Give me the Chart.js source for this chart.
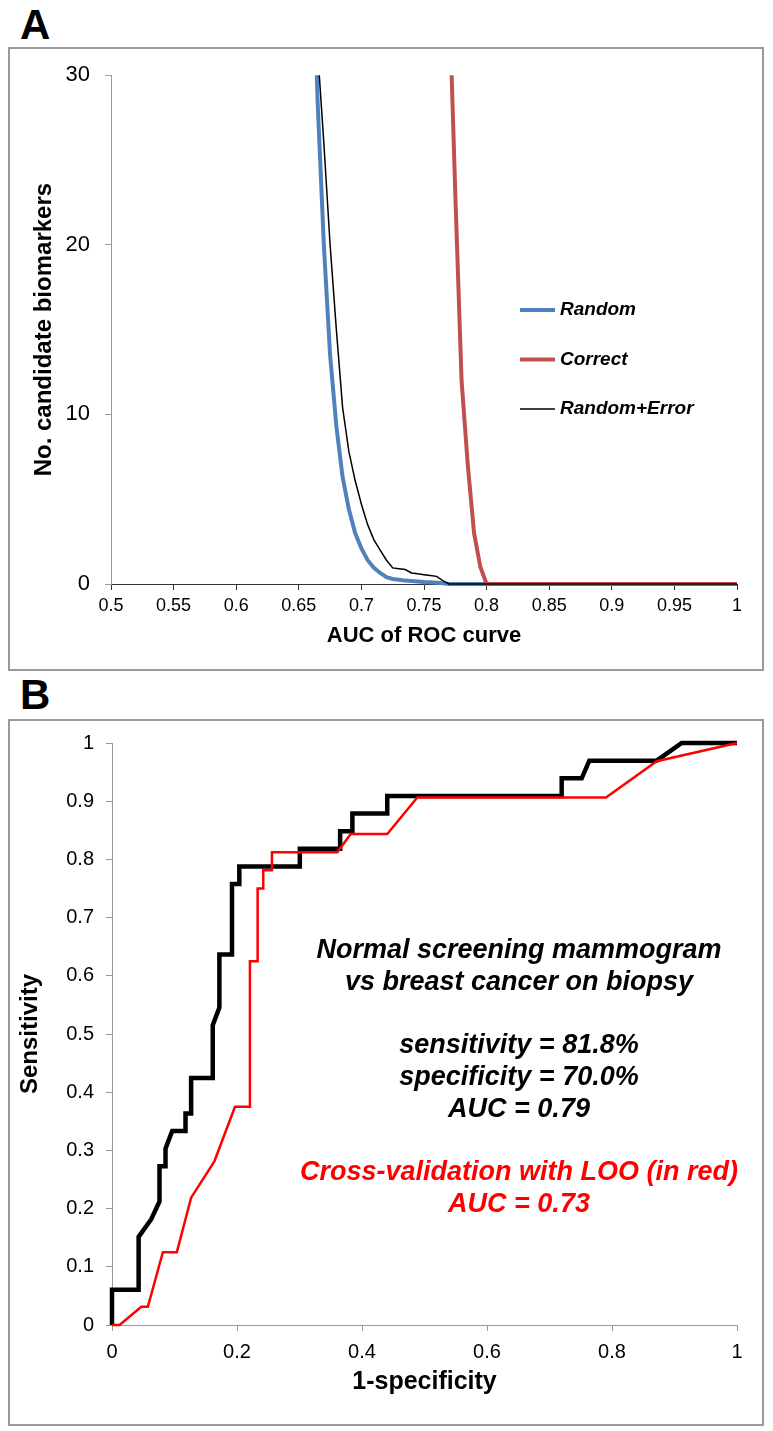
<!DOCTYPE html>
<html>
<head>
<meta charset="utf-8">
<script src="https://cdn.jsdelivr.net/npm/chart.js@4.4.0/dist/chart.umd.min.js"></script>
<style>
  body { margin: 0; background: #fff; width: 773px; height: 1431px; position: relative; overflow: hidden; }
  .tag { position: absolute; left: 20px; font: bold 42px "Liberation Sans Narrow", "Liberation Sans", Arial, sans-serif; line-height: 1; }
  .frame { position: absolute; left: 8px; width: 756px; border: 2px solid #9a9a9a; box-sizing: border-box; pointer-events: none; }
  canvas { position: absolute; left: 8px; }
</style>
</head>
<body>
<div class="tag" style="top:4px">A</div>
<canvas id="chartA" width="756" height="623" style="top:47px"></canvas>
<div class="frame" style="top:47px;height:624px"></div>

<div class="tag" style="top:674px">B</div>
<canvas id="chartB" width="756" height="706" style="top:719px"></canvas>
<div class="frame" style="top:719px;height:707px"></div>

<script>
// ---- panel A: number of candidate biomarkers vs AUC ----
var aucRandom   = [0.66, 0.665, 0.67, 0.675, 0.68, 0.685, 0.69, 0.695, 0.70, 0.705, 0.71, 0.715, 0.72, 0.725, 0.73, 0.735, 0.74, 0.745, 0.75, 0.755, 0.76, 0.765, 0.77, 1.0];
var countRandom = [41, 28.5, 20, 13.5, 9.3, 6.3, 4.4, 3.0, 2.1, 1.4, 0.95, 0.65, 0.4, 0.3, 0.25, 0.2, 0.18, 0.15, 0.12, 0.1, 0.08, 0.04, 0, 0];

var aucCorrect   = [0.77, 0.775, 0.78, 0.785, 0.79, 0.795, 0.80, 1.0];
var countCorrect = [35, 23, 12, 7, 3, 1, 0, 0];

var aucRandErr   = [0.66, 0.665, 0.67, 0.675, 0.68, 0.685, 0.69, 0.695, 0.70, 0.705, 0.71, 0.715, 0.72, 0.725, 0.73, 0.735, 0.74, 0.745, 0.75, 0.755, 0.76, 0.765, 0.77, 1.0];
var countRandErr = [44, 31.5, 26, 20, 15, 10.4, 7.8, 6.1, 4.7, 3.5, 2.6, 2.0, 1.4, 0.95, 0.9, 0.85, 0.65, 0.6, 0.55, 0.5, 0.45, 0.2, 0, 0];

var xTicksA = [0.5, 0.55, 0.6, 0.65, 0.7, 0.75, 0.8, 0.85, 0.9, 0.95, 1];
var yTicksA = [0, 10, 20, 30];

// ---- panel B: ROC curves ----
var fprModel = [0, 0, 0.0426, 0.0426, 0.0628, 0.076, 0.076, 0.0856, 0.0856, 0.0963, 0.1176, 0.1176, 0.1266, 0.1266, 0.1612, 0.1612, 0.1718, 0.1718, 0.192, 0.192, 0.2037, 0.2037, 0.3005, 0.3005, 0.365, 0.365, 0.3846, 0.3846, 0.4404, 0.4404, 0.7195, 0.7195, 0.7515, 0.7637, 0.8715, 0.9115, 1.0];
var tprModel = [0, 0.0606, 0.0606, 0.1515, 0.1818, 0.2121, 0.2727, 0.2727, 0.3030, 0.3333, 0.3333, 0.3636, 0.3636, 0.4242, 0.4242, 0.5152, 0.5455, 0.6364, 0.6364, 0.7576, 0.7576, 0.7879, 0.7879, 0.8182, 0.8182, 0.8485, 0.8485, 0.8788, 0.8788, 0.9091, 0.9091, 0.9394, 0.9394, 0.9697, 0.9697, 1.0, 1.0];

var fprLoo = [0, 0.0122, 0.0468, 0.0574, 0.0814, 0.1037, 0.1266, 0.1638, 0.1968, 0.2207, 0.2207, 0.233, 0.233, 0.242, 0.242, 0.2559, 0.2559, 0.3606, 0.3819, 0.4404, 0.4885, 0.7904, 0.8715, 1.0];
var tprLoo = [0, 0, 0.03125, 0.03125, 0.125, 0.125, 0.21875, 0.28125, 0.375, 0.375, 0.625, 0.625, 0.75, 0.75, 0.78125, 0.78125, 0.8125, 0.8125, 0.84375, 0.84375, 0.90625, 0.90625, 0.96875, 1.0];

var xTicksB = [0, 0.2, 0.4, 0.6, 0.8, 1];
var yTicksB = [0, 0.1, 0.2, 0.3, 0.4, 0.5, 0.6, 0.7, 0.8, 0.9, 1];

var noteText = [
  "Normal screening mammogram",
  "vs breast cancer on biopsy",
  "sensitivity = 81.8%",
  "specificity = 70.0%",
  "AUC = 0.79",
  "Cross-validation with LOO (in red)",
  "AUC = 0.73"
];

Chart.defaults.font.family = "'Liberation Sans', Arial, sans-serif";
Chart.defaults.color = "#000";

function pts(xs, ys) {
  return xs.map(function (x, i) { return { x: x, y: ys[i] }; });
}
function useTicks(list) {
  return function (scale) { scale.ticks = list.map(function (v) { return { value: v }; }); };
}
function fixWidth(w) { return function (scale) { scale.width = w; }; }
function fixHeight(h) { return function (scale) { scale.height = h; }; }

var legendA = {
  id: "legendA",
  afterDraw: function (chart) {
    var ctx = chart.ctx;
    ctx.save();
    ctx.font = "italic bold 19px 'Liberation Sans', Arial, sans-serif";
    ctx.textBaseline = "middle";
    chart.data.datasets.forEach(function (ds, i) {
      var y = 263 + i * 49.5;
      ctx.strokeStyle = ds.borderColor;
      ctx.lineWidth = ds.borderWidth;
      ctx.beginPath();
      ctx.moveTo(512, y);
      ctx.lineTo(547, y);
      ctx.stroke();
      ctx.fillStyle = "#000";
      ctx.fillText(ds.label, 552, y);
    });
    ctx.restore();
  }
};

var notesB = {
  id: "notesB",
  afterDraw: function (chart) {
    var ctx = chart.ctx;
    var rowY = [232, 264, 327, 359, 391, 454, 486];
    ctx.save();
    ctx.font = "italic bold 27px 'Liberation Sans', Arial, sans-serif";
    ctx.textAlign = "center";
    ctx.textBaseline = "middle";
    noteText.forEach(function (t, i) {
      ctx.fillStyle = i >= 5 ? "#ff0000" : "#000";
      ctx.fillText(t, 511, rowY[i]);
    });
    ctx.restore();
  }
};

new Chart(document.getElementById("chartA"), {
  type: "line",
  data: {
    datasets: [{
      label: "Random",
      data: pts(aucRandom, countRandom),
      borderColor: "#4f81bd",
      borderWidth: 4,
      pointRadius: 0,
      order: 3
    }, {
      label: "Correct",
      data: pts(aucCorrect, countCorrect),
      borderColor: "#c0504d",
      borderWidth: 4,
      pointRadius: 0,
      order: 2
    }, {
      label: "Random+Error",
      data: pts(aucRandErr, countRandErr),
      borderColor: "#000",
      borderWidth: 1.5,
      pointRadius: 0,
      order: 1
    }]
  },
  options: {
    responsive: false,
    animation: false,
    devicePixelRatio: 1,
    clip: { left: 3, top: 0, right: 3, bottom: 4 },
    layout: { padding: { left: 0, top: 21, right: 27, bottom: 0 } },
    plugins: { legend: { display: false }, tooltip: { enabled: false } },
    scales: {
      x: {
        type: "linear",
        min: 0.5,
        max: 1,
        afterBuildTicks: useTicks(xTicksA),
        afterFit: fixHeight(86),
        grid: { drawOnChartArea: false, tickLength: 6, color: "#333" },
        border: { color: "#333", width: 1 },
        ticks: {
          padding: 5,
          maxRotation: 0,
          autoSkip: false,
          font: { family: "'Liberation Sans Narrow', 'Liberation Sans', Arial, sans-serif", size: 18 },
          callback: function (v) { return String(v); }
        },
        title: {
          display: true,
          text: "AUC of ROC curve",
          font: { size: 22, weight: "bold" },
          padding: { top: 0, bottom: 21 }
        }
      },
      y: {
        min: 0,
        max: 30,
        afterBuildTicks: useTicks(yTicksA),
        afterFit: fixWidth(103),
        grid: { drawOnChartArea: false, tickLength: 6, color: "#999" },
        border: { color: "#999", width: 1 },
        ticks: { padding: 15, font: { size: 22 } },
        title: {
          display: true,
          text: "No. candidate biomarkers",
          font: { size: 24, weight: "bold" },
          padding: { top: 22, bottom: 0 }
        }
      }
    }
  },
  plugins: [legendA]
});

new Chart(document.getElementById("chartB"), {
  type: "line",
  data: {
    datasets: [{
      label: "Model",
      data: pts(fprModel, tprModel),
      borderColor: "#000",
      borderWidth: 4.5,
      borderJoinStyle: "miter",
      pointRadius: 0,
      order: 2
    }, {
      label: "LOO",
      data: pts(fprLoo, tprLoo),
      borderColor: "#ff0000",
      borderWidth: 2.5,
      pointRadius: 0,
      order: 1
    }]
  },
  options: {
    responsive: false,
    animation: false,
    devicePixelRatio: 1,
    clip: 4,
    layout: { padding: { left: 0, top: 20, right: 27, bottom: 0 } },
    plugins: { legend: { display: false }, tooltip: { enabled: false } },
    scales: {
      x: {
        type: "linear",
        min: 0,
        max: 1,
        afterBuildTicks: useTicks(xTicksB),
        afterFit: fixHeight(100),
        grid: { drawOnChartArea: false, tickLength: 6, color: "#999" },
        border: { color: "#999", width: 1 },
        ticks: { padding: 9, maxRotation: 0, autoSkip: false, font: { size: 20 },
          callback: function (v) { return String(v); } },
        title: {
          display: true,
          text: "1-specificity",
          font: { size: 25, weight: "bold" },
          padding: { top: 0, bottom: 28 }
        }
      },
      y: {
        min: 0,
        max: 1,
        afterBuildTicks: useTicks(yTicksB),
        afterFit: fixWidth(104),
        grid: { drawOnChartArea: false, tickLength: 6, color: "#999" },
        border: { color: "#999", width: 1 },
        ticks: { padding: 12, autoSkip: false, font: { size: 20 },
          callback: function (v) { return String(v); } },
        title: {
          display: true,
          text: "Sensitivity",
          font: { size: 24, weight: "bold" },
          padding: { top: 8, bottom: 0 }
        }
      }
    }
  },
  plugins: [notesB]
});
</script>
</body>
</html>
